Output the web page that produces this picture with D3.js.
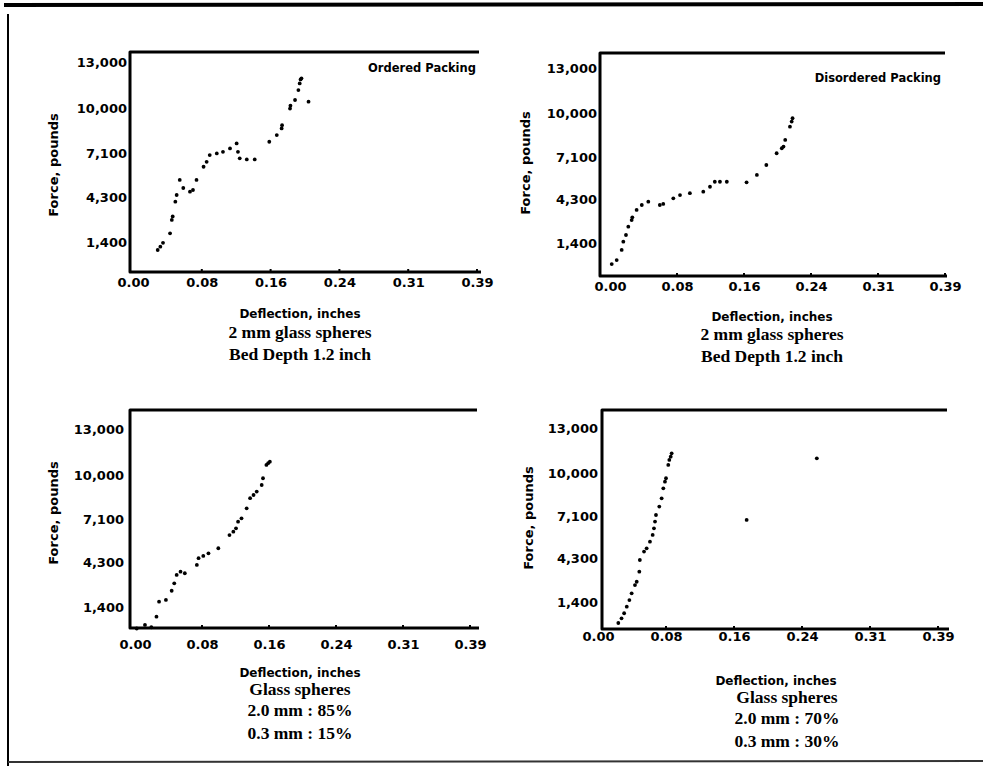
<!DOCTYPE html>
<html><head><meta charset="utf-8">
<script src="https://cdn.jsdelivr.net/npm/d3@7/dist/d3.min.js"></script>
<style>body{margin:0;background:#fff}svg{display:block}</style>
</head><body><svg id="c" width="987" height="770"></svg>
<script>
// ---- data ----
const xTickValues = [0, 0.078, 0.156, 0.234, 0.312, 0.39];
const xTickLabels = ["0.00", "0.08", "0.16", "0.24", "0.31", "0.39"];
const yTickValues = [1400, 4300, 7100, 10000, 13000];
const yTickLabels = ["1,400", "4,300", "7,100", "10,000", "13,000"];
const xTitle = "Deflection, inches";
const yTitle = "Force, pounds";

const orderedDeflection = [0.028,0.031,0.034,0.042,0.044,0.045,0.048,0.0495,0.053,0.057,0.0646,0.068,0.072,0.080,0.0835,0.087,0.095,0.102,0.110,0.1175,0.119,0.121,0.129,0.138,0.1545,0.163,0.1685,0.169,0.178,0.1785,0.1837,0.1875,0.189,0.190,0.191,0.199];
const orderedForce      = [885,1100,1350,1960,2820,3050,4000,4430,5400,4880,4640,4750,5400,6250,6570,7000,7110,7210,7430,7750,7210,6790,6720,6720,7860,8290,8720,8930,10000,10180,10550,11190,11620,11880,11950,10440];

const disorderedDeflection = [0.002,0.0078,0.0136,0.0155,0.0186,0.0213,0.0252,0.026,0.031,0.037,0.0446,0.058,0.062,0.0737,0.0815,0.093,0.1086,0.1164,0.122,0.128,0.136,0.159,0.171,0.182,0.194,0.200,0.202,0.204,0.2095,0.2115,0.2125];
const disorderedForce      = [0,270,940,1490,1930,2480,2920,3100,3590,3920,4140,3920,3990,4360,4580,4700,4800,5130,5460,5460,5460,5420,5910,6570,7350,7680,7790,8230,9110,9450,9670];

const mix85Deflection = [0.002,0.0116,0.019,0.025,0.028,0.036,0.0427,0.0457,0.0485,0.053,0.058,0.072,0.074,0.0795,0.0855,0.097,0.110,0.1145,0.1176,0.120,0.124,0.130,0.134,0.138,0.1417,0.1475,0.149,0.153,0.155,0.157];
const mix85Force      = [0,230,80,770,1750,1860,2460,2940,3490,3700,3600,4140,4580,4730,4900,5230,6090,6310,6530,6960,7180,7830,8490,8700,8920,9350,9790,10660,10770,10870];

const mix70Deflection = [0.0233,0.027,0.030,0.033,0.036,0.0386,0.0424,0.0444,0.0474,0.048,0.0528,0.0558,0.0596,0.0627,0.0642,0.0654,0.0665,0.0703,0.073,0.0749,0.0768,0.078,0.0806,0.0818,0.0834,0.0845,0.1705,0.251];
const mix70Force      = [0,310,650,1090,1530,1980,2530,2750,3420,4200,4760,4980,5420,5870,6310,6760,7200,7760,8310,8980,9420,9650,10540,10870,11090,11310,6870,10980];

const panelNotes = ["Ordered Packing", "Disordered Packing", "", ""];
const panelCaptions = [
  ["2 mm glass spheres", "Bed Depth 1.2 inch"],
  ["2 mm glass spheres", "Bed Depth 1.2 inch"],
  ["Glass spheres", "2.0 mm : 85%", "0.3 mm : 15%"],
  ["Glass spheres", "2.0 mm : 70%", "0.3 mm : 30%"]
];

// ---- layout (pixel geometry per panel) ----
const layout = [
  {l:130,r:479,t:52,b:272, x0:133,x1:477, y0:242,y1:62, tickY:288, ylx:127, ytx:53, yty:165, titleY:318, capX:300, capY:[338,360], noteX:476, noteY:72, xtX:300},
  {l:600,r:945,t:53,b:276, x0:610,x1:945, y0:243,y1:68, tickY:292, ylx:597, ytx:525, yty:163, titleY:321, capX:772, capY:[340,362], noteX:941, noteY:82, xtX:772},
  {l:130,r:477,t:410,b:628, x0:135,x1:470, y0:607,y1:429, tickY:650, ylx:124, ytx:53, yty:513, titleY:677, capX:300, capY:[695,716,739], noteX:0, noteY:0, xtX:300},
  {l:602,r:947,t:410,b:629, x0:598,x1:938, y0:602,y1:428, tickY:642, ylx:598, ytx:528, yty:518, titleY:685, capX:787, capY:[703,724,747], noteX:0, noteY:0, xtX:776}
];

const series = [
  {x: orderedDeflection, y: orderedForce},
  {x: disorderedDeflection, y: disorderedForce},
  {x: mix85Deflection, y: mix85Force},
  {x: mix70Deflection, y: mix70Force}
];

const svg = d3.select("#c");
const sans = "'DejaVu Sans', sans-serif";
const serif = "'Liberation Serif', 'DejaVu Serif', serif";

// outer frame
svg.append("path").attr("d","M4,5 L983,4").attr("stroke","#000").attr("stroke-width",4).attr("fill","none");
svg.append("path").attr("d","M8,14 L8,766").attr("stroke","#000").attr("stroke-width",2).attr("fill","none");
svg.append("path").attr("d","M8,762 L983,761").attr("stroke","#333").attr("stroke-width",2).attr("fill","none");

layout.forEach((L, i) => {
  const g = svg.append("g");
  const x = d3.scaleLinear().domain([0, 0.39]).range([L.x0, L.x1]);
  const y = d3.scaleLinear().domain([1400, 13000]).range([L.y0, L.y1]);

  // box: top, left, bottom lines
  g.append("path")
    .attr("d", `M${L.r},${L.t} L${L.l},${L.t} L${L.l},${L.b} L${L.r+2},${L.b}`)
    .attr("fill","none").attr("stroke","#000").attr("stroke-width",3).attr("stroke-linejoin","round");

  // y axis ticks & labels
  const yAxis = d3.axisLeft(y).tickValues(yTickValues).tickSize(0).tickPadding(0)
    .tickFormat((d, k) => yTickLabels[k]);
  const ya = g.append("g").attr("transform", `translate(${L.ylx},0)`).call(yAxis);
  ya.select(".domain").remove();
  ya.selectAll("text").attr("font-family", sans).attr("font-weight","bold").attr("font-size",13).attr("fill","#000");

  // x axis ticks & labels
  const xAxis = d3.axisBottom(x).tickValues(xTickValues).tickSize(0).tickPadding(0)
    .tickFormat((d, k) => xTickLabels[k]);
  const xa = g.append("g").attr("transform", `translate(0,${L.tickY - 10})`).call(xAxis);
  xa.select(".domain").remove();
  xa.selectAll("text").attr("font-family", sans).attr("font-weight","bold").attr("font-size",13).attr("fill","#000").attr("dy","0.71em");

  // small tick bumps on the bottom axis
  g.selectAll("line.bt").data(xTickValues.slice(1)).join("line")
    .attr("x1", d => x(d)).attr("x2", d => x(d))
    .attr("y1", L.b - 3).attr("y2", L.b).attr("stroke","#000").attr("stroke-width",2);

  // axis titles
  g.append("text").attr("x", L.xtX).attr("y", L.titleY).attr("text-anchor","middle")
    .attr("font-family", sans).attr("font-weight","bold").attr("font-size",12).text(xTitle);
  g.append("text").attr("transform", `translate(${L.ytx + 5},${L.yty}) rotate(-90)`).attr("text-anchor","middle")
    .attr("font-family", sans).attr("font-weight","bold").attr("font-size",13).text(yTitle);

  // note
  if (panelNotes[i]) {
    g.append("text").attr("x", L.noteX).attr("y", L.noteY).attr("text-anchor","end")
      .attr("font-family", sans).attr("font-weight","bold").attr("font-size",11.5).text(panelNotes[i]);
  }

  // captions
  panelCaptions[i].forEach((c, k) => {
    g.append("text").attr("x", L.capX).attr("y", L.capY[k]).attr("text-anchor","middle")
      .attr("font-family", serif).attr("font-weight","bold").attr("font-size",17.5).text(c);
  });

  // points
  const s = series[i];
  g.selectAll("circle.pt").data(s.x.map((v, k) => [v, s.y[k]])).join("circle")
    .attr("cx", d => x(d[0])).attr("cy", d => y(d[1])).attr("r", 1.9).attr("fill","#000");
});
</script></body></html>
